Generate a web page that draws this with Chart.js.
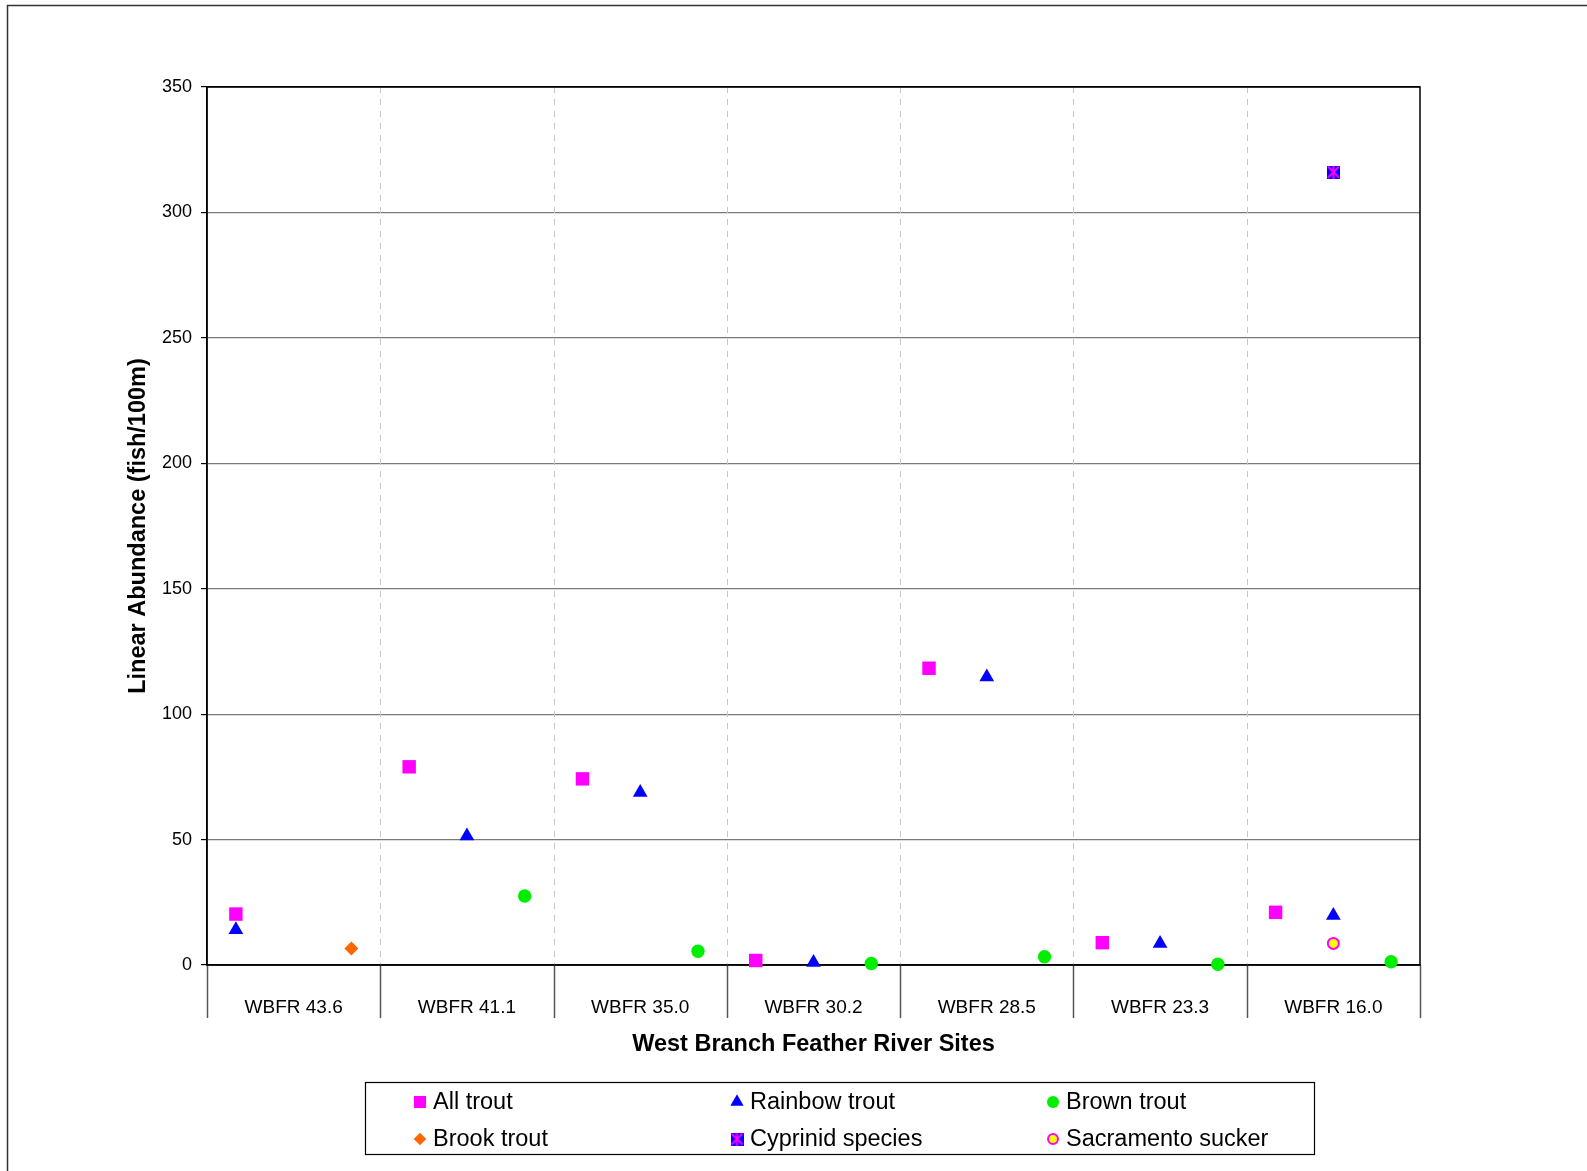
<!DOCTYPE html>
<html>
<head>
<meta charset="utf-8">
<script src="https://cdn.jsdelivr.net/npm/chart.js@4.4.1/dist/chart.umd.min.js"></script>
<style>
    body { margin: 0; background: #fff; }
    #wrap { width: 1587px; height: 1171px; }
</style>
</head>
<body>
<div id="wrap"><canvas id="chart" width="1587" height="1171"></canvas></div>
<script>
const siteNames = ['WBFR 43.6', 'WBFR 41.1', 'WBFR 35.0', 'WBFR 30.2', 'WBFR 28.5', 'WBFR 23.3', 'WBFR 16.0'];
const yTicks = [0, 50, 100, 150, 200, 250, 300, 350];

// three sub-slots per site, null where nothing was caught
const allTrout =         [20.3, null, null,  79, null, null,  74.2, null, null,  1.8, null, null,  118.3, null, null,  8.9, null, null,  21.0, null, null];
const rainbowTrout =     [14.1, null, null,  null, 51.4, null,  null, 68.8, null,  null, 1.0, null,  null, 114.8, null,  null, 8.6, null,  null, 19.7, null];
const brownTrout =       [null, null, null,  null, null, 27.5,  null, null, 5.5,  null, null, 0.6,  null, null, 3.3,  null, null, 0.3,  null, null, 1.3];
const brookTrout =       [null, null, 6.6,  null, null, null,  null, null, null,  null, null, null,  null, null, null,  null, null, null,  null, null, null];
const cyprinidSpecies =  [null, null, null,  null, null, null,  null, null, null,  null, null, null,  null, null, null,  null, null, null,  null, 316.1, null];
const sacramentoSucker = [null, null, null,  null, null, null,  null, null, null,  null, null, null,  null, null, null,  null, null, null,  null, 8.6, null];

const slotLabels = siteNames.flatMap(s => [s, s, s]);
const FONT = '"Liberation Sans", Arial, sans-serif';

function cyprinidMarker(size){
    const c = document.createElement('canvas');
    c.width = size;
    c.height = size;
    const ctx = c.getContext('2d');
    ctx.fillStyle = '#0000FF';
    ctx.fillRect(0, 0, size, size);
    ctx.strokeStyle = '#FF00FF';
    ctx.lineWidth = 2;
    ctx.beginPath();
    ctx.moveTo(1, 1); ctx.lineTo(size - 1, size - 1);
    ctx.moveTo(size - 1, 1); ctx.lineTo(1, size - 1);
    ctx.moveTo(size / 2, 0); ctx.lineTo(size / 2, size);
    ctx.stroke();
    return c;
}

function series(label, data, style, radius, fill, border, borderWidth){
    return {
        label: label,
        data: data,
        showLine: false,
        clip: false,
        pointStyle: style,
        pointRadius: radius,
        pointHoverRadius: radius,
        pointBackgroundColor: fill,
        pointBorderColor: border,
        pointBorderWidth: borderWidth
    };
}

const separators = {
    id: 'separators',
    beforeDatasetsDraw(chart){
        const ctx = chart.ctx;
        const x = chart.scales.x;
        const area = chart.chartArea;
        const slot = x.getPixelForValue(1) - x.getPixelForValue(0);
        ctx.save();
        for (let k = 0; k <= siteNames.length; k++) {
            const px = Math.round(x.getPixelForValue(k * 3) - slot / 2) + 0.5;
            if (k > 0 && k < siteNames.length) {
                ctx.strokeStyle = '#c8c8c8';
                ctx.lineWidth = 1;
                ctx.setLineDash([6, 6]);
                ctx.beginPath();
                ctx.moveTo(px, area.top);
                ctx.lineTo(px, area.bottom);
                ctx.stroke();
            }
            ctx.setLineDash([]);
            ctx.strokeStyle = '#555';
            ctx.lineWidth = 1.5;
            ctx.beginPath();
            ctx.moveTo(px, area.bottom);
            ctx.lineTo(px, area.bottom + 53);
            ctx.stroke();
        }
        ctx.strokeStyle = '#000';
        ctx.lineWidth = 1.5;
        ctx.strokeRect(area.left, area.top, area.right - area.left, area.bottom - area.top);
        ctx.restore();
    }
};

const boxLegend = {
    id: 'boxLegend',
    afterDraw(chart){
        const ctx = chart.ctx;
        const colX = [420, 737, 1053];
        const rowY = [1102, 1139];
        ctx.save();
        ctx.strokeStyle = '#000';
        ctx.lineWidth = 1.2;
        ctx.strokeRect(365.5, 1082.5, 949, 72);
        chart.data.datasets.forEach((ds, i) => {
            const cx = colX[i % 3];
            const cy = rowY[Math.floor(i / 3)];
            ctx.fillStyle = ds.pointBackgroundColor;
            ctx.strokeStyle = ds.pointBorderColor;
            ctx.lineWidth = ds.pointBorderWidth;
            Chart.helpers.drawPoint(ctx, {
                pointStyle: ds.pointStyle,
                radius: ds.pointRadius * 0.9,
                rotation: 0,
                borderWidth: ds.pointBorderWidth
            }, cx, cy);
            ctx.fillStyle = '#000';
            ctx.font = '23.5px ' + FONT;
            ctx.textBaseline = 'middle';
            ctx.textAlign = 'left';
            ctx.fillText(ds.label, cx + 13, cy + 1);
        });
        // outer frame of the figure
        ctx.strokeStyle = '#333';
        ctx.lineWidth = 1.5;
        ctx.strokeRect(7.5, 5.5, 1700, 1300);
        ctx.restore();
    }
};

new Chart(document.getElementById('chart'), {
    type: 'line',
    data: {
        labels: slotLabels,
        datasets: [
            series('All trout', allTrout, 'rect', 9.5, '#FF00FF', '#FF00FF', 0),
            series('Rainbow trout', rainbowTrout, 'triangle', 8.5, '#0000FF', '#0000FF', 0),
            series('Brown trout', brownTrout, 'circle', 6.7, '#00EE00', '#00EE00', 0),
            series('Brook trout', brookTrout, 'rectRot', 7, '#FF6600', '#FF6600', 0),
            series('Cyprinid species', cyprinidSpecies, cyprinidMarker(13), 7, '#0000FF', '#FF00FF', 0),
            series('Sacramento sucker', sacramentoSucker, 'circle', 5.5, '#FFFF00', '#FF00FF', 2)
        ]
    },
    options: {
        responsive: false,
        animation: false,
        events: [],
        layout: { padding: { left: 0, top: 87, right: 167, bottom: 0 } },
        plugins: {
            legend: { display: false },
            tooltip: { enabled: false }
        },
        scales: {
            x: {
                type: 'category',
                offset: true,
                grid: { display: false, drawTicks: false },
                border: { display: true, color: '#000', width: 1.5 },
                ticks: {
                    autoSkip: false,
                    maxRotation: 0,
                    padding: 31,
                    color: '#000',
                    font: { family: FONT, size: 19 },
                    callback: (v, i) => i % 3 === 1 ? siteNames[Math.floor(i / 3)] : ''
                },
                title: {
                    display: true,
                    text: 'West Branch Feather River Sites',
                    color: '#000',
                    font: { family: FONT, size: 23.5, weight: 'bold' },
                    padding: { top: 0, bottom: 112 }
                },
                afterFit: s => { s.height = 206; }
            },
            y: {
                min: yTicks[0],
                max: yTicks[yTicks.length - 1],
                afterBuildTicks: s => { s.ticks = yTicks.map(v => ({ value: v })); },
                grid: {
                    color: c => (c.tick && (c.tick.value === 0 || c.tick.value === 350)) ? '#000' : '#7a7a7a',
                    lineWidth: 1.2,
                    drawTicks: true,
                    tickLength: 6,
                    tickColor: '#000'
                },
                border: { display: true, color: '#000', width: 1.5 },
                ticks: {
                    padding: 9,
                    color: '#000',
                    font: { family: FONT, size: 18 }
                },
                title: {
                    display: true,
                    text: 'Linear Abundance (fish/100m)',
                    color: '#000',
                    font: { family: FONT, size: 23.5, weight: 'bold' },
                    padding: { top: 124, bottom: 0 }
                },
                afterFit: s => { s.width = 207; }
            }
        }
    },
    plugins: [separators, boxLegend]
});
</script>
</body>
</html>
